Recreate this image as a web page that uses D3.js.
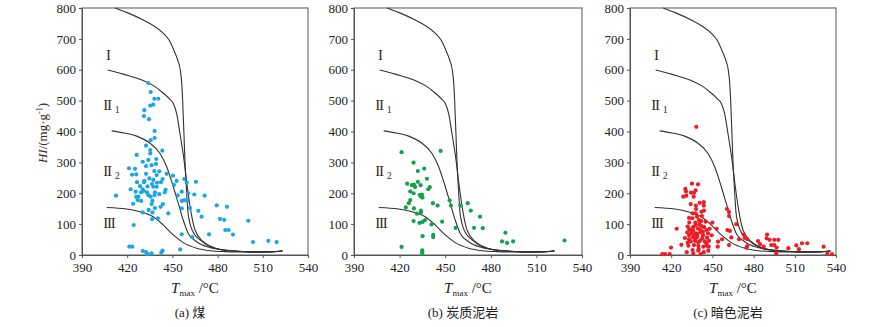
<!DOCTYPE html>
<html>
<head>
<meta charset="utf-8">
<script src="https://cdn.jsdelivr.net/npm/d3@7"></script>
<style>
  body { margin: 0; background: #fff; }
  svg text { font-family: "Liberation Serif", "Times New Roman", "Noto Sans CJK SC", serif; }
</style>
</head>
<body>
<div id="chart"></div>
<script>
// Tick values shared by the three panels
const xTicks = [390, 420, 450, 480, 510, 540];
const yTicks = [0, 100, 200, 300, 400, 500, 600, 700, 800];

// Coal (T max, HI)
const coal = [
  [434.0,557],[435.6,528],[438.0,506],[440.6,506],[435.3,484],[437.3,487],[431.4,469],[431.1,450],
  [434.5,440],[432.5,354],[435.6,372],[438.2,402],[438.2,379],[435.3,340],[435.3,329],[443.3,338],
  [426.3,324],[434.0,308],[439.3,311],[439.1,295],[430.3,302],[436.2,291],[432.5,288],[421.2,281],
  [425.2,279],[438.0,272],[441.3,271],[432.5,263],[423.2,260],[426.0,261],[439.6,259],[446.2,263],
  [450.4,257],[443.5,246],[442.4,236],[437.3,243],[439.8,234],[431.4,240],[434.7,248],[431.1,236],
  [426.5,236],[436.5,230],[437.3,221],[439.6,221],[433.5,222],[428.5,223],[430.3,213],[422.3,213],
  [412.6,192],[425.6,205],[429.2,203],[430.9,208],[433.1,203],[438.4,203],[438.2,194],[441.3,197],
  [445.5,211],[444.9,203],[435.6,189],[434.0,194],[427.4,189],[426.0,188],[426.9,178],[429.2,175],
  [436.7,175],[436.2,165],[424.0,166],[443.7,165],[442.2,156],[438.4,152],[434.2,146],[436.8,138],
  [430.3,138],[447.3,135],[440.4,119],[436.5,116],[424.3,97],
  [451.0,227],[452.8,240],[457.9,246],[459.5,234],[456.2,205],[460.5,200],[453.5,193],[457.9,178],
  [456.2,175],[459.9,175],[465.6,237],[464.5,196],[471.4,192],[461.7,152],[456.2,151],[467.2,143],
  [469.4,124],[479.4,161],[486.2,156],[481.6,117],[484.4,114],[485.1,81],[487.3,81],[490.2,66],
  [474.3,67],[463.2,58],[456.2,67],[500.4,111],[503.5,42],[513.7,46],[519.2,42],[455.2,18],
  [421.4,27],[423.4,27],[430.3,13],[432.5,9],[433.6,3],[436.2,5],[442.6,8],[443.5,14]
];

// Carbonaceous mudstone
const carbMud = [
  [421.3,333],[447.0,337],[429.2,299],[436.2,280],[432.0,272],[438.0,247],[432.0,237],[425.0,231],
  [428.1,226],[429.4,228],[433.8,226],[430.2,220],[439.9,220],[438.8,213],[427.0,206],[429.2,200],
  [433.3,194],[434.7,196],[434.2,189],[435.1,186],[427.0,178],[426.1,168],[441.9,168],[445.0,160],
  [424.1,154],[429.4,151],[434.0,144],[434.0,138],[431.4,134],[452.9,177],[453.8,160],[459.9,160],
  [464.8,168],[466.8,144],[472.9,124],[429.2,110],[433.1,104],[435.1,107],[436.8,113],[441.0,99],
  [448.0,108],[456.9,88],[469.0,88],[474.7,87],[435.1,61],[442.1,65],[442.1,58],[421.3,26],
  [434.9,15],[434.9,9],[434.9,3],[487.4,44],[489.6,72],[490.7,39],[494.7,44],[528.5,47]
];

// Dark mudstone
const darkMud = [
  [438.3,415],[435.1,231],[439.5,229],[430.3,214],[430.8,206],[434.4,202],[437.8,209],[436.6,202],
  [428.8,189],[431.0,192],[436.4,189],[440.8,169],[443.7,171],[443.7,160],[434.2,165],[438.1,149],
  [437.8,135],[442.4,126],[440.2,113],[435.4,119],[433.2,105],[437.6,105],[441.9,110],[445.1,108],
  [450.0,105],[424.0,85],[432.0,92],[435.9,90],[439.5,86],[441.9,94],[445.8,81],[431.7,73],
  [434.6,70],[438.1,70],[441.2,74],[433.0,63],[435.9,57],[439.0,59],[443.2,64],[446.1,56],
  [449.5,64],[434.2,44],[437.3,46],[441.0,46],[444.4,44],[447.5,46],[427.4,33],[432.5,30],
  [436.6,32],[439.7,30],[443.4,27],[435.6,16],[439.7,14],[447.0,14],[431.3,9],[436.1,5],
  [441.5,3],[443.7,9],[419.9,24],[413.5,3],[415.5,3],[418.9,3],[453.9,27],[454.1,43],
  [453.1,85],[457.0,51],[462.1,32],[460.9,81],[462.8,78],[463.8,57],[467.4,100],[460.6,149],
  [462.1,139],[462.1,126],[469.4,51],[472.8,66],[473.5,55],[475.4,51],[475.4,29],[474.8,24],
  [483.2,45],[484.7,35],[487.4,27],[489.8,66],[489.5,54],[491.7,49],[492.9,32],[495.1,49],
  [495.1,32],[496.8,24],[498.0,49],[496.5,5],[505.3,22],[511.1,31],[513.0,19],[515.2,38],
  [519.1,38],[531.0,27],[533.7,5],[537.1,3],[447.3,27],[438.8,124],[435.6,135],[443.9,144],
  [441.5,81],[434.2,81],[437.8,54],[442.6,54],[439.7,41],[445.6,38],[433.0,51],[436.6,65],
  [443.2,75],[446.8,70],[433.2,83],[437.6,96],[440.5,100],[436.0,78],[439.0,65],[444.0,90],
  [432.0,40],[440.0,20],[446.0,30],[430.0,55],[448.0,85],[438.0,160],[433.0,120],[442.0,140]
];

// Kerogen type boundary curves (template, same in every panel)
const curveI = [
  [412,800],[420,785],[430.7,761],[438,741],[444,718],[448,695],[451,663],[453.5,632],[455.2,600],
  [456.2,555],[456.8,501],[457.6,400],[458.3,308],[459.5,200],[460.3,140],[461.3,110],[462.3,91],
  [464.5,68],[468.3,49],[475,27],[483,17],[492,13],[503,10],[513,10],[523,13]
];
const curveII1 = [
  [407,599],[418,585],[430.7,565],[438,547],[444,524],[448,506],[450.6,491],[452.8,459],[455,394],
  [457.7,308],[459.9,221],[462.1,146],[465,81],[470.5,43],[475,29],[483,17],[492,13],[503,10],
  [513,10],[523,13]
];
const curveII2 = [
  [409.7,402],[418,395],[426.3,385],[435.1,362],[441.8,329],[446.2,286],[450.6,221],[453.9,167],
  [457.2,113],[460.5,70],[466.1,43],[475,24],[483,16],[492,12],[503,10],[513,10],[523,13]
];
const curveIII = [
  [406.4,154],[419.6,149],[430.7,137],[437.3,124],[444,97],[450.6,65],[457.2,40],[466.1,22],
  [475,14],[485,11],[495,10],[505,10],[515,10.5],[523,13]
];

const margin = { top: 8, bottom: 255 };
const W = 894, H = 327;

const svg = d3.select("#chart")
  .append("svg")
  .attr("width", W)
  .attr("height", H);

const y = d3.scaleLinear().domain([0, 800]).range([margin.bottom, margin.top]);

// Boundary curves sit at the same pixel offset from the y axis in every panel
const curveX = d3.scaleLinear().domain([390, 540]).range([0, 226]);

const panels = [
  { x0: 82,  x1: 308, data: coal,    color: "#1aa6e6", caption: "(a) 煤" },
  { x0: 354, x1: 582, data: carbMud, color: "#12a24c", caption: "(b) 炭质泥岩" },
  { x0: 630, x1: 836, data: darkMud, color: "#ee1c24", caption: "(c) 暗色泥岩" }
];

const labels = [
  { t: 405.9, hi: 632, main: "I",   sub: "" },
  { t: 404.1, hi: 470, main: "II",  sub: "1" },
  { t: 404.1, hi: 256, main: "II",  sub: "2" },
  { t: 404.1, hi: 87,  main: "III", sub: "" }
];

const line = d3.line()
  .x(d => curveX(d[0]))
  .y(d => y(d[1]))
  .curve(d3.curveMonotoneX);

panels.forEach(p => {
  const x = d3.scaleLinear().domain([390, 540]).range([p.x0, p.x1]);
  const g = svg.append("g");

  // frame
  g.append("rect")
    .attr("x", p.x0).attr("y", margin.top)
    .attr("width", p.x1 - p.x0).attr("height", margin.bottom - margin.top)
    .attr("fill", "none").attr("stroke", "#555").attr("stroke-width", 1);

  const xAxis = g.append("g")
    .attr("transform", `translate(0,${margin.bottom})`)
    .call(d3.axisBottom(x).tickValues(xTicks).tickSize(3).tickPadding(5).tickFormat(d3.format("d")));
  const yAxis = g.append("g")
    .attr("transform", `translate(${p.x0},0)`)
    .call(d3.axisLeft(y).tickValues(yTicks).tickSize(3).tickPadding(3).tickFormat(d3.format("d")));

  [xAxis, yAxis].forEach(a => {
    a.select(".domain").attr("stroke", "#555");
    a.selectAll(".tick line").attr("stroke", "#555");
    a.selectAll("text").attr("font-size", 13).attr("fill", "#222")
      .style("font-family", '"Liberation Serif", serif');
  });

  // curves
  const cg = g.append("g").attr("transform", `translate(${p.x0},0)`);
  [curveI, curveII1, curveII2, curveIII].forEach(c => {
    cg.append("path")
      .attr("d", line(c))
      .attr("fill", "none")
      .attr("stroke", "#333")
      .attr("stroke-width", 1.1);
  });

  // type labels
  labels.forEach(l => {
    const t = cg.append("text")
      .attr("x", curveX(l.t))
      .attr("y", y(l.hi))
      .attr("font-size", 15)
      .attr("fill", "#3a2a1e")
      .attr("letter-spacing", "-1.2px");
    t.append("tspan").text(l.main);
    if (l.sub) {
      t.append("tspan").attr("dx", 4).attr("dy", 3)
        .attr("font-size", 10).attr("letter-spacing", 0).text(l.sub);
    }
  });

  // samples
  g.append("g").selectAll("circle")
    .data(p.data)
    .join("circle")
    .attr("cx", d => x(d[0]))
    .attr("cy", d => y(d[1]))
    .attr("r", 2.1)
    .attr("fill", p.color);

  // x title
  const xt = g.append("text")
    .attr("x", (p.x0 + p.x1) / 2)
    .attr("y", 293)
    .attr("text-anchor", "middle")
    .attr("font-size", 15)
    .attr("fill", "#222");
  xt.append("tspan").attr("font-style", "italic").text("T");
  xt.append("tspan").attr("font-size", 9).attr("dy", 3).text("max");
  xt.append("tspan").attr("dy", -3).text(" /°C");

  // caption
  g.append("text")
    .attr("x", (p.x0 + p.x1) / 2 - 5)
    .attr("y", 317)
    .attr("text-anchor", "middle")
    .attr("font-size", 13)
    .attr("fill", "#222")
    .style("font-family", '"Liberation Serif", "Noto Sans CJK SC", serif')
    .text(p.caption);
});

// y title (first panel only)
const yt = svg.append("text")
  .attr("transform", "translate(47,133) rotate(-90)")
  .attr("text-anchor", "middle")
  .attr("font-size", 13)
  .attr("fill", "#3a2a1e");
yt.append("tspan").attr("font-style", "italic").text("HI");
yt.append("tspan").text("/(mg·g");
yt.append("tspan").attr("font-size", 8).attr("dy", -5).text("-1");
yt.append("tspan").attr("dy", 5).text(")");
</script>
</body>
</html>
